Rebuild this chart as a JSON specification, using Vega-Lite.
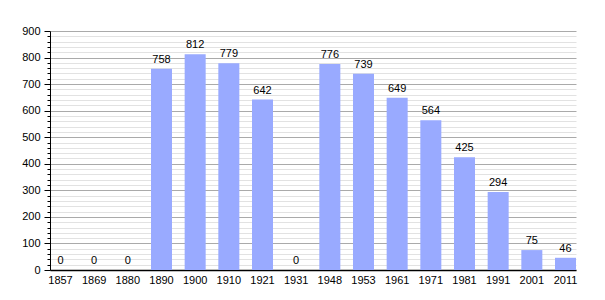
{
  "$schema": "https://vega.github.io/schema/vega-lite/v6.json",
  "width": 526,
  "height": 239,
  "autosize": {"type": "none"},
  "padding": {"left": 50, "top": 31, "right": 29, "bottom": 30},
  "background": "white",
  "config": {
    "view": {"stroke": null},
    "font": "Liberation Sans",
    "axis": {"labelFont": "Liberation Sans", "labelFontSize": 11, "labelColor": "#000", "titleColor": "#000"}
  },
  "data": {
    "values": [
      {"year": "1857", "pop": 0},
      {"year": "1869", "pop": 0},
      {"year": "1880", "pop": 0},
      {"year": "1890", "pop": 758},
      {"year": "1900", "pop": 812},
      {"year": "1910", "pop": 779},
      {"year": "1921", "pop": 642},
      {"year": "1931", "pop": 0},
      {"year": "1948", "pop": 776},
      {"year": "1953", "pop": 739},
      {"year": "1961", "pop": 649},
      {"year": "1971", "pop": 564},
      {"year": "1981", "pop": 425},
      {"year": "1991", "pop": 294},
      {"year": "2001", "pop": 75},
      {"year": "2011", "pop": 46}
    ]
  },
  "encoding": {
    "x": {
      "field": "year",
      "type": "ordinal",
      "sort": null,
      "scale": {"paddingInner": 0.376, "paddingOuter": 0},
      "axis": {"title": null, "labelAngle": 0, "ticks": false, "domainColor": "#000", "domainWidth": 1.5, "labelPadding": 4}
    },
    "y": {
      "field": "pop",
      "type": "quantitative",
      "scale": {"domain": [0, 900], "nice": false},
      "axis": {
        "title": null,
        "values": [0,20,40,60,80,100,120,140,160,180,200,220,240,260,280,300,320,340,360,380,400,420,440,460,480,500,520,540,560,580,600,620,640,660,680,700,720,740,760,780,800,820,840,860,880,900],
        "labelExpr": "datum.value % 100 === 0 ? datum.label : ''",
        "gridColor": {"condition": {"test": "datum.value % 100 === 0", "value": "#aaaaaa"}, "value": "#e2e2e2"},
        "tickSize": {"condition": {"test": "datum.value % 100 === 0", "value": 6}, "value": 3},
        "tickColor": "#000",
        "domainColor": "#000",
        "labelPadding": 4
      }
    }
  },
  "layer": [
    {"mark": {"type": "bar", "color": "#99aaff"}},
    {"mark": {"type": "text", "dy": -6, "baseline": "alphabetic", "fontSize": 11, "color": "#000"}, "encoding": {"text": {"field": "pop", "type": "quantitative"}}}
  ]
}
